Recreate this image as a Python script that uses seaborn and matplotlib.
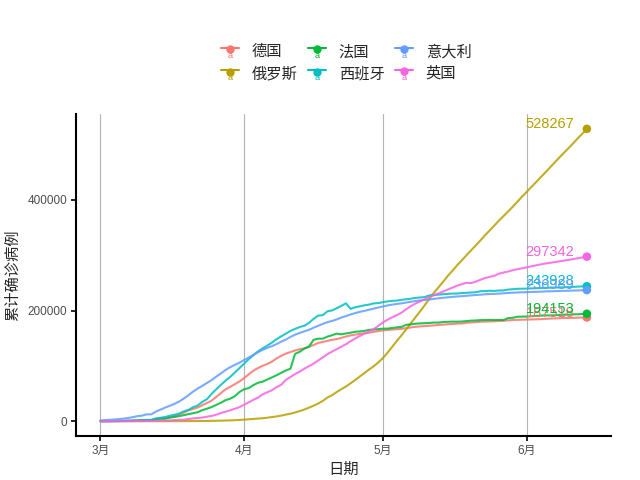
import pandas as pd
import matplotlib
matplotlib.use("Agg")
import matplotlib.pyplot as plt
import matplotlib.dates as mdates
from matplotlib.ticker import FuncFormatter
from matplotlib.lines import Line2D
from matplotlib.text import Text
from matplotlib.legend_handler import HandlerBase
import seaborn as sns

# 累计确诊病例, 2020-03-01 .. 2020-06-14
countries = ["德国", "俄罗斯", "法国", "西班牙", "意大利", "英国"]
colors = ["#F8766D", "#B79F00", "#00BA38", "#00BFC4", "#619CFF", "#F564E3"]

germany = [130, 159, 196, 262, 482, 670, 799, 1040, 1176, 1457, 1908, 2078, 3675, 4585, 5795, 7272,
           9257, 12327, 15320, 19848, 22213, 24873, 29056, 32986, 37323, 43938, 50871, 57695, 62095,
           66885, 71808,
           77872, 84794, 91159, 96092, 100123, 103374, 107663, 113296, 118181, 122171, 124908, 127854,
           130072, 131359, 134753, 137698, 141397, 143342, 145184, 147065, 148291, 150648, 153129,
           154999, 156513, 157770, 158758, 159912, 161539, 163009,
           164077, 164967, 165664, 166152, 167007, 168162, 169430, 170588, 171324, 171879, 172576,
           173171, 174098, 174478, 175233, 175752, 176369, 176551, 177778, 178473, 179021, 179710,
           179986, 180328, 180600, 181200, 181524, 182196, 182922, 183189, 183410,
           183594, 183879, 184121, 184472, 184924, 185450, 185750, 186109, 186506, 186522, 186691,
           187226, 187267, 187518]
russia = [2, 3, 3, 3, 4, 4, 13, 13, 17, 17, 28, 28, 45, 59, 63, 90, 114, 147, 199, 253, 306, 367,
          438, 495, 658, 840, 1036, 1264, 1534, 1836, 2337,
          2777, 3548, 4149, 4731, 5389, 6343, 7497, 8672, 10131, 11917, 13584, 15770, 18328, 21102,
          24490, 27938, 32008, 36793, 42853, 47121, 52763, 57999, 62773, 68622, 74588, 80949, 87147,
          93558, 99399, 106498,
          114431, 124054, 134686, 145268, 155370, 165929, 177160, 187859, 198676, 209688, 221344,
          232243, 242271, 252245, 262843, 272043, 281752, 290678, 299941, 308705, 317554, 326448,
          335882, 344481, 353427, 362342, 370680, 379051, 387623, 396575, 405843,
          414328, 423186, 431715, 440538, 449256, 458102, 467073, 476043, 484630, 493023, 501800,
          510761, 519458, 528267]
france = [130, 191, 204, 288, 380, 656, 959, 1136, 1219, 1794, 2293, 2293, 3681, 4496, 4532, 6683,
          7715, 9124, 10970, 12758, 14463, 16243, 20123, 22622, 25600, 29551, 33402, 38105, 40708,
          45170, 52827,
          57749, 59929, 65202, 69500, 71412, 75343, 79163, 83057, 87366, 91738, 94863, 121712,
          125394, 131361, 134582, 147091, 149149, 149193, 152894, 155383, 158303, 157026, 158636,
          159952, 161644, 162220, 163280, 165093, 165764, 166420,
          167299, 167305, 168518, 169583, 170551, 174224, 174918, 176202, 176782, 177094, 177547,
          178349, 178184, 179306, 179645, 179964, 179859, 180166, 180933, 181700, 182036, 182709,
          182913, 183067, 182847, 183038, 182722, 186364, 186923, 188752, 188972,
          189220, 189569, 190180, 190759, 191313, 191102, 191330, 192068, 192493, 192339, 193098,
          193220, 193746, 194153]
spain = [84, 120, 165, 222, 259, 400, 500, 673, 1073, 1695, 2277, 2277, 5232, 6391, 7798, 9942,
         11748, 13910, 17963, 20410, 25374, 28603, 35136, 39885, 49515, 57786, 65719, 73235, 80110,
         87956, 95923,
         104118, 112065, 119199, 126168, 131646, 136675, 141942, 148220, 153222, 158273, 163027,
         166831, 170099, 172541, 177644, 184948, 190839, 191726, 198674, 200210, 204178, 208389,
         213024, 202990, 205905, 207634, 209465, 210773, 212917, 213435,
         215216, 216582, 217466, 218011, 219329, 220325, 221447, 222857, 223578, 224350, 227436,
         228030, 228691, 229540, 230183, 230698, 230698, 231606, 232037, 232555, 233037, 234824,
         235290, 235772, 235400, 236259, 236259, 237906, 238564, 239228, 239479,
         239638, 239932, 240326, 240660, 240978, 241310, 241550, 241717, 241966, 242280, 242707,
         243209, 243605, 243928]
italy = [1694, 2036, 2502, 3089, 3858, 4636, 5883, 7375, 9172, 10149, 12462, 12462, 17660, 21157,
         24747, 27980, 31506, 35713, 41035, 47021, 53578, 59138, 63927, 69176, 74386, 80589, 86498,
         92472, 97689, 101739, 105792,
         110574, 115242, 119827, 124632, 128948, 132547, 135586, 139422, 143626, 147577, 152271,
         156363, 159516, 162488, 165155, 168941, 172434, 175925, 178972, 181228, 183957, 187327,
         189973, 192994, 195351, 197675, 199414, 201505, 203591, 205463,
         207428, 209328, 210717, 211938, 213013, 214457, 215858, 217185, 218268, 219070, 219814,
         221216, 222104, 223096, 223885, 224760, 225435, 225886, 226699, 227364, 228006, 228658,
         229327, 229858, 230158, 230555, 231139, 231732, 232248, 232664, 232997,
         233197, 233515, 233836, 234013, 234531, 234801, 234998, 235278, 235561, 235763, 236142,
         236305, 236651, 236989]
uk = [36, 40, 51, 86, 116, 164, 207, 274, 322, 384, 459, 459, 802, 1144, 1145, 1551, 1960, 2642,
      2716, 4014, 5067, 5745, 6726, 8164, 9640, 11812, 14745, 17312, 19780, 22453, 25481,
      29865, 34173, 38689, 42477, 48436, 52279, 55949, 61474, 65872, 74605, 79874, 85206, 89570,
      94845, 99483, 104145, 109769, 115314, 121172, 125856, 130172, 134638, 139246, 144640, 149569,
      154037, 158348, 162350, 166441, 172481,
      178685, 183500, 187842, 191832, 196243, 202359, 207977, 212629, 216525, 220449, 224332,
      227741, 230985, 234440, 238004, 241461, 244995, 247709, 250138, 249619, 252246, 255544,
      258504, 260916, 262547, 266599, 268619, 270508, 272826, 274762, 276332,
      277985, 279856, 281661, 283311, 284868, 286194, 287399, 288834, 290143, 291409, 292950,
      294402, 295889, 297342]

dates = pd.date_range("2020-03-01", "2020-06-14", freq="D")
series = [germany, russia, france, spain, italy, uk]
df = pd.concat([pd.DataFrame({"日期": dates, "累计确诊病例": v, "国家": c})
                for c, v in zip(countries, series)], ignore_index=True)
last = df[df["日期"] == dates[-1]]


class KeyHandler(HandlerBase):
    # ggplot-like key: line + point + small "a"
    def create_artists(self, legend, orig, xd, yd, width, height, fontsize, trans):
        c = orig.get_color()
        y = height / 2 - yd + 2
        x0, x1 = -xd, width - xd
        ln = Line2D([x0, x1], [y, y], color=c, lw=1.5)
        pt = Line2D([(x0 + x1) / 2], [y - 1], color=c, marker="o", markersize=5, ls="")
        tx = Text((x0 + x1) / 2, y - 2, "a", color=c, fontsize=fontsize * 0.6,
                  ha="center", va="top", family="Liberation Sans", zorder=3)
        for a in (ln, pt, tx):
            a.set_transform(trans)
        return [ln, pt, tx]


sns.set_style("white")
plt.rcParams["font.family"] = ["Liberation Sans", "Noto Sans CJK SC", "DejaVu Sans"]
palette = dict(zip(countries, colors))

fig = plt.figure(figsize=(6.4, 4.8), dpi=100)
ax = fig.add_axes([0.119, 0.092, 0.836, 0.670])

sns.lineplot(data=df, x="日期", y="累计确诊病例", hue="国家", hue_order=countries,
             palette=palette, lw=1.5, alpha=0.85, legend=False, ax=ax)
sns.scatterplot(data=last, x="日期", y="累计确诊病例", hue="国家", hue_order=countries,
                palette=palette, s=38, edgecolor="none", legend=False, ax=ax, zorder=5)
for _, r in last.iterrows():
    ax.annotate(str(r["累计确诊病例"]), (r["日期"], r["累计确诊病例"]),
                xytext=(-9, 3.5), textcoords="offset points", ha="right", va="center",
                color=palette[r["国家"]], fontsize=10.5)

ax.xaxis.set_major_locator(mdates.MonthLocator())
ax.xaxis.set_major_formatter(FuncFormatter(lambda x, p: f"{mdates.num2date(x).month}月"))
ax.set_yticks([0, 200000, 400000])
ax.margins(x=0.05, y=0.05)

ax.grid(axis="x", color="#b3b3b3", lw=0.8)
ax.grid(axis="y", visible=False)
for s in ["top", "right"]:
    ax.spines[s].set_visible(False)
for s in ["left", "bottom"]:
    ax.spines[s].set_color("black")
    ax.spines[s].set_linewidth(1.5)
ax.tick_params(axis="both", length=3.5, width=1.2, color="black", labelsize=8.5,
               labelcolor="#4d4d4d", bottom=True, left=True, pad=3)
ax.set_xlabel("日期", fontsize=11, labelpad=4)
ax.set_ylabel("累计确诊病例", fontsize=11, labelpad=5)

handles = [Line2D([], [], color=c) for c in colors]
fig.legend(handles, countries, loc="center", bbox_to_anchor=(0.541, 0.869), ncol=3,
           frameon=False, fontsize=11, handlelength=1.2, handletextpad=0.8,
           columnspacing=0.7, labelspacing=0.5, handler_map={Line2D: KeyHandler()})

fig.savefig("out.png", dpi=100)
